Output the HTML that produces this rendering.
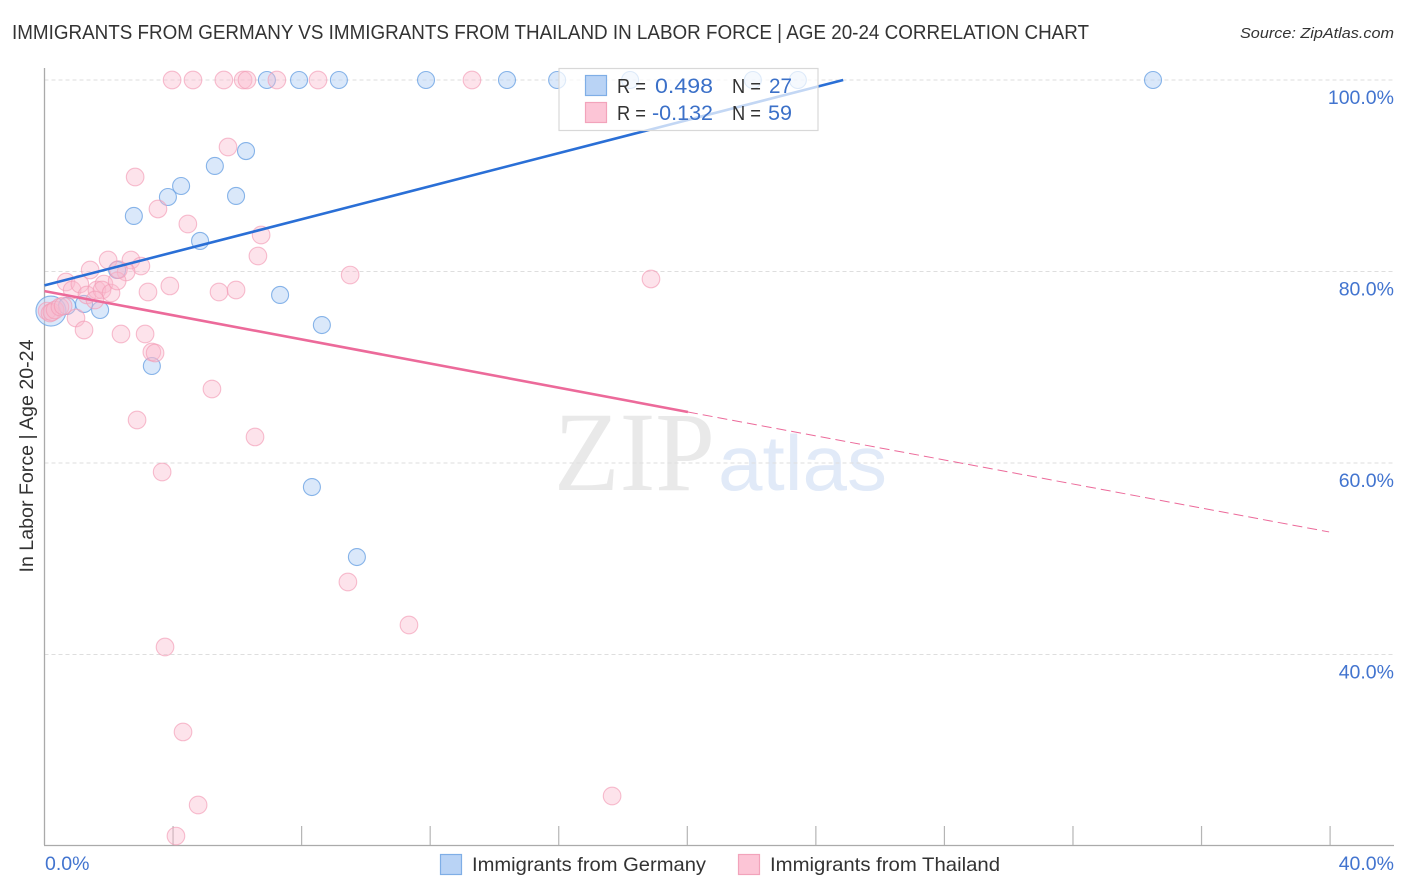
<!DOCTYPE html>
<html>
<head>
<meta charset="utf-8">
<style>
html,body{margin:0;padding:0;background:#fff;width:1406px;height:892px;overflow:hidden}
svg{display:block;font-family:"Liberation Sans",sans-serif}
</style>
</head>
<body>
<svg id="chart" width="1406" height="892" viewBox="0 0 1406 892" xmlns="http://www.w3.org/2000/svg">
<rect width="1406" height="892" fill="#fff"/>
<text x="12" y="39" font-size="20" fill="#333" textLength="1077" lengthAdjust="spacingAndGlyphs">IMMIGRANTS FROM GERMANY VS IMMIGRANTS FROM THAILAND IN LABOR FORCE | AGE 20-24 CORRELATION CHART</text>
<text x="1394" y="38" font-size="15" font-style="italic" fill="#333" text-anchor="end" textLength="154" lengthAdjust="spacingAndGlyphs">Source: ZipAtlas.com</text>
<g id="watermark">
<text x="554" y="490" font-family="'Liberation Serif',serif" font-size="113" fill="#e9e9e9" textLength="161" lengthAdjust="spacingAndGlyphs">ZIP</text>
<text x="718" y="490" font-family="'Liberation Sans',sans-serif" font-size="78" fill="#e1eaf8" textLength="169" lengthAdjust="spacingAndGlyphs">atlas</text>
</g>
<g id="grid"></g>
<g id="axes"></g>
<g id="thailand-points"></g>
<g id="germany-points"></g>
<g id="trends"></g>
<g id="stat-legend">
<rect x="559" y="68.5" width="259" height="62" fill="#fff" fill-opacity="0.72" stroke="#d8d8d8" stroke-width="1.2"/>
<rect x="585.5" y="75.5" width="21" height="20" fill="#b9d3f5" stroke="#7faee6" stroke-width="1.2"/>
<rect x="585.5" y="102.5" width="21" height="20" fill="#fcc5d6" stroke="#f2a3bb" stroke-width="1.2"/>
<text x="617" y="93" font-size="20" fill="#333" textLength="29" lengthAdjust="spacingAndGlyphs">R =</text>
<text x="655" y="93" font-size="21" fill="#3b70c8" textLength="58" lengthAdjust="spacingAndGlyphs">0.498</text>
<text x="732" y="93" font-size="20" fill="#333" textLength="29" lengthAdjust="spacingAndGlyphs">N =</text>
<text x="769" y="93" font-size="21" fill="#3b70c8" textLength="23" lengthAdjust="spacingAndGlyphs">27</text>
<text x="617" y="120" font-size="20" fill="#333" textLength="29" lengthAdjust="spacingAndGlyphs">R =</text>
<text x="652" y="120" font-size="21" fill="#3b70c8" textLength="61" lengthAdjust="spacingAndGlyphs">-0.132</text>
<text x="732" y="120" font-size="20" fill="#333" textLength="29" lengthAdjust="spacingAndGlyphs">N =</text>
<text x="768" y="120" font-size="21" fill="#3b70c8" textLength="24" lengthAdjust="spacingAndGlyphs">59</text>
</g>
<text transform="translate(33,456) rotate(-90)" font-size="19" fill="#333" text-anchor="middle" textLength="233" lengthAdjust="spacingAndGlyphs">In Labor Force | Age 20-24</text>
<g id="series-legend">
<g>
<rect x="440.5" y="854.5" width="21" height="20" fill="#b9d3f5" stroke="#7faee6" stroke-width="1.2"/>
<text x="472" y="871" font-size="19.5" fill="#333" textLength="234" lengthAdjust="spacingAndGlyphs">Immigrants from Germany</text>
</g>
<g>
<rect x="738.5" y="854.5" width="21" height="20" fill="#fcc5d6" stroke="#f2a3bb" stroke-width="1.2"/>
<text x="770" y="871" font-size="19.5" fill="#333" textLength="230" lengthAdjust="spacingAndGlyphs">Immigrants from Thailand</text>
</g>
</g>
</svg>
<script>
const germanyX = [0.20,0.70,1.23,1.73,2.26,2.78,3.34,3.84,4.25,4.84,5.30,5.96,6.27,6.92,7.33,7.92,8.63,8.32,9.16,9.72,11.87,14.39,15.95,18.22,22.04,23.44,34.49];
const germanyY = [75.87,76.40,76.61,75.98,80.16,85.80,70.13,87.78,88.93,83.19,91.02,87.89,92.58,100,77.55,100,74.41,57.49,100,50.18,100,100,100,100,100,100,100];
const germanySize = [15,8.5,8.5,8.5,8.5,8.5,8.5,8.5,8.5,8.5,8.5,8.5,8.5,8.5,8.5,8.5,8.5,8.5,8.5,8.5,8.5,8.5,8.5,8.5,8.5,8.5,8.5];
const thailandX = [3.97,4.62,5.58,6.18,6.30,7.23,8.51,13.30,5.71,2.82,3.53,4.46,6.74,6.64,9.51,18.87,1.98,2.69,3.00,1.42,2.54,0.67,0.86,1.10,1.32,1.63,1.85,1.79,2.07,2.26,3.22,3.90,5.43,5.96,1.57,0.98,1.23,2.38,3.13,3.34,3.44,5.21,2.88,6.55,3.66,9.44,11.34,3.75,4.31,4.78,17.66,4.09,0.08,0.17,0.23,0.33,0.48,0.58,2.30];
const thailandY = [100,100,100,100,100,100,100,100,93.0,89.87,86.53,84.96,83.81,81.62,79.63,79.22,81.20,81.20,80.57,80.16,79.95,78.90,78.07,78.69,77.55,78.07,78.69,78.07,77.75,79.01,77.86,78.49,77.86,78.07,77.02,75.14,73.89,73.47,73.47,71.59,71.49,67.73,64.49,62.72,59.06,47.57,43.08,40.78,31.91,24.28,25.22,21.04,75.87,75.66,75.77,75.98,76.29,76.40,80.20];
const germanyTrendX = [0,24.85];
const germanyTrendY = [78.55,100];
const thailandTrendX = [0,20.02];
const thailandTrendY = [77.95,65.33];
const thailandDashX = [20.02,39.97];
const thailandDashY = [65.33,52.8];
const yTicks = [100,80,60,40];
const yTickLabels = ["100.0%","80.0%","60.0%","40.0%"];
const xTicks = [0,4,8,12,16,20,24,28,32,36,40];
const xEndLabels = ["0.0%","40.0%"];

function xScale(v){ return 44.5 + v * 32.14; }
function yScale(v){ return 80 + (100 - v) * 9.575; }

const NS = "http://www.w3.org/2000/svg";
function make(tag, attrs, parent){
  const el = document.createElementNS(NS, tag);
  for (const k in attrs) el.setAttribute(k, attrs[k]);
  parent.appendChild(el);
  return el;
}
const grid = document.getElementById('grid');


const axes = document.getElementById('axes');



yTicks.forEach(function(t, i){
  const line = make('line', {x1:44.5, x2:1394, y1:yScale(t), y2:yScale(t), stroke:'#dedede', 'stroke-width':1, 'stroke-dasharray':'4 3'}, grid);
  
  
  const label = make('text', {x:1394, y:yScale(t)+24, 'text-anchor':'end', 'font-size':19.5, fill:'#4274cf'}, axes);
  
  
  label.textContent = yTickLabels[i];
});

const leftAxis = make('line', {x1:44.5, x2:44.5, y1:68, y2:845, stroke:'#aaa', 'stroke-width':1.3}, axes);


const bottomAxis = make('line', {x1:44, x2:1394, y1:845.5, y2:845.5, stroke:'#aaa', 'stroke-width':1.3}, axes);



xTicks.slice(1).forEach(function(t){
  const tick = make('line', {x1:xScale(t), x2:xScale(t), y1:826, y2:845, stroke:'#b5b5b5', 'stroke-width':1.2}, axes);
  
  
});

const xStartLabel = make('text', {x:45, y:870, 'font-size':19.5, fill:'#4274cf'}, axes);


xStartLabel.textContent = xEndLabels[0];
const xEndLabel = make('text', {x:1394, y:870, 'font-size':19.5, fill:'#4274cf', 'text-anchor':'end'}, axes);


xEndLabel.textContent = xEndLabels[1];

const germanyGroup = document.getElementById('germany-points');


germanyX.forEach(function(x, i){
  const c = make('circle', {cx:xScale(x), cy:yScale(germanyY[i]), r:germanySize[i], fill:'#b5d2f5', 'fill-opacity':0.5, stroke:'#6ba3e3', 'stroke-opacity':0.8, 'stroke-width':1.1}, germanyGroup);
  
  
});

const thailandGroup = document.getElementById('thailand-points');


thailandX.forEach(function(x, i){
  const c = make('circle', {cx:xScale(x), cy:yScale(thailandY[i]), r:8.8, fill:'#f9b8cc', 'fill-opacity':0.4, stroke:'#f29bb6', 'stroke-opacity':0.65, 'stroke-width':1.1}, thailandGroup);
  
  
});
thailandGroup.parentNode.insertBefore(germanyGroup, thailandGroup);

const trends = document.getElementById('trends');


const blueTrend = make('line', {x1:xScale(germanyTrendX[0]), y1:yScale(germanyTrendY[0]), x2:xScale(germanyTrendX[1]), y2:yScale(germanyTrendY[1]), stroke:'#2a6fd6', 'stroke-width':2.6}, trends);


const pinkTrend = make('line', {x1:xScale(thailandTrendX[0]), y1:yScale(thailandTrendY[0]), x2:xScale(thailandTrendX[1]), y2:yScale(thailandTrendY[1]), stroke:'#ec6a9a', 'stroke-width':2.6}, trends);


const pinkDash = make('line', {x1:xScale(thailandDashX[0]), y1:yScale(thailandDashY[0]), x2:xScale(thailandDashX[1]), y2:yScale(thailandDashY[1]), stroke:'#ec6a9a', 'stroke-width':1, 'stroke-dasharray':'10 5'}, trends);


</script>
</body>
</html>
